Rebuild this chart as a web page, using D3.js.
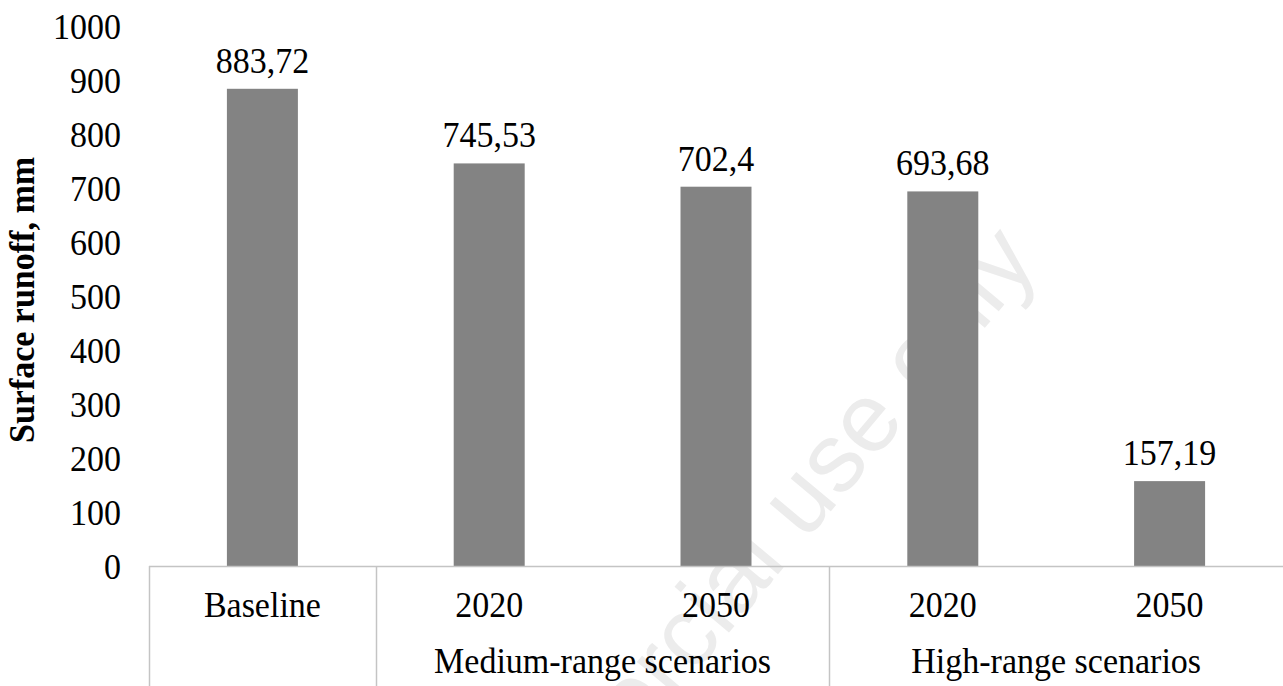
<!DOCTYPE html>
<html>
<head>
<meta charset="utf-8">
<script src="https://cdn.jsdelivr.net/npm/d3@7"></script>
<style>
  html, body { margin: 0; padding: 0; background: #fff; }
  svg { display: block; }
  text { font-family: "Liberation Serif", "Times New Roman", serif; fill: #000; }
</style>
</head>
<body>
<svg id="chart" width="1283" height="686"></svg>
<script>
// Surface runoff per scenario (mm)
const categories = ["Baseline", "2020", "2050", "2020", "2050"];
const groups = ["", "Medium-range scenarios", "Medium-range scenarios", "High-range scenarios", "High-range scenarios"];
const values = [883.72, 745.53, 702.4, 693.68, 157.19];
const valueLabels = ["883,72", "745,53", "702,4", "693,68", "157,19"];
const yTicks = [0, 100, 200, 300, 400, 500, 600, 700, 800, 900, 1000];

const W = 1283, H = 686;
const margin = { left: 149, right: 0, top: 26, bottom: 120 };
const plotBottom = H - margin.bottom;
const fontSize = 34;
const stretchY = 1.08; // glyphs are slightly taller than wide

const svg = d3.select("#chart");

// places a text at (x, y) with the vertical stretch applied
const place = (x, y) => `translate(${x},${y}) scale(1,${stretchY})`;

// Faint diagonal watermark behind the chart
svg.append("text")
  .attr("transform", "translate(1040,262) rotate(-50)")
  .attr("text-anchor", "end")
  .style("font-family", "'Liberation Sans', Arial, sans-serif")
  .style("font-size", "98px")
  .style("fill", "#ececec")
  .text("Non-commercial use only");

const idx = d3.range(categories.length);
const x = d3.scaleBand().domain(idx).range([margin.left, W - margin.right]).padding(0);
const y = d3.scaleLinear().domain([0, 1000]).range([plotBottom, margin.top]);

const barFrac = 0.313;
const barW = x.bandwidth() * barFrac;

// Bars
svg.append("g").selectAll("rect")
  .data(idx)
  .join("rect")
  .attr("x", i => x(i) + (x.bandwidth() - barW) / 2)
  .attr("y", i => y(values[i]))
  .attr("width", barW)
  .attr("height", i => y(0) - y(values[i]))
  .attr("fill", "#838383");

// Value labels
svg.append("g").selectAll("text")
  .data(idx)
  .join("text")
  .attr("transform", i => place(x(i) + x.bandwidth() / 2, y(values[i]) - 16))
  .attr("text-anchor", "middle")
  .style("font-size", fontSize + "px")
  .text(i => valueLabels[i]);

// Y axis (labels only, no line)
const yAxis = d3.axisLeft(y).tickValues(yTicks).tickSize(0).tickPadding(0).tickFormat(d3.format("d"));
const yG = svg.append("g").attr("transform", "translate(121,0)").call(yAxis);
yG.select(".domain").remove();
yG.selectAll("text")
  .style("font-family", "'Liberation Serif', 'Times New Roman', serif")
  .style("font-size", fontSize + "px")
  .attr("fill", "#000")
  .attr("dy", null)
  .attr("transform", `translate(0,${fontSize * 0.33 * stretchY}) scale(1,${stretchY})`);

// Axis title
svg.append("text")
  .attr("transform", `translate(34,${(margin.top + plotBottom) / 2 + 4}) rotate(-90) scale(1,${stretchY})`)
  .attr("text-anchor", "middle")
  .style("font-size", fontSize + "px")
  .style("font-weight", "bold")
  .text("Surface runoff, mm");

// Category axis: baseline and cell separators
const lineColor = "#c4c4c4";
svg.append("line")
  .attr("x1", margin.left).attr("x2", W)
  .attr("y1", plotBottom + 0.5).attr("y2", plotBottom + 0.5)
  .attr("stroke", lineColor).attr("stroke-width", 1.5);

// Separators at group boundaries
const boundaries = [0];
for (let i = 1; i < categories.length; i++) {
  if (groups[i] !== groups[i - 1]) boundaries.push(i);
}
svg.append("g").selectAll("line")
  .data(boundaries)
  .join("line")
  .attr("x1", i => Math.round(x(i)) + 0.5)
  .attr("x2", i => Math.round(x(i)) + 0.5)
  .attr("y1", plotBottom)
  .attr("y2", H)
  .attr("stroke", lineColor).attr("stroke-width", 1.5);

// Inner category labels
svg.append("g").selectAll("text")
  .data(idx)
  .join("text")
  .attr("transform", i => place(x(i) + x.bandwidth() / 2, 617))
  .attr("text-anchor", "middle")
  .style("font-size", fontSize + "px")
  .text(i => categories[i]);

// Group labels
const groupNames = Array.from(new Set(groups.filter(g => g)));
svg.append("g").selectAll("text")
  .data(groupNames)
  .join("text")
  .attr("transform", g => {
    const members = idx.filter(i => groups[i] === g);
    const cx = (x(members[0]) + x(members[members.length - 1]) + x.bandwidth()) / 2;
    return place(cx, 673);
  })
  .attr("text-anchor", "middle")
  .style("font-size", fontSize + "px")
  .text(g => g);
</script>
</body>
</html>
